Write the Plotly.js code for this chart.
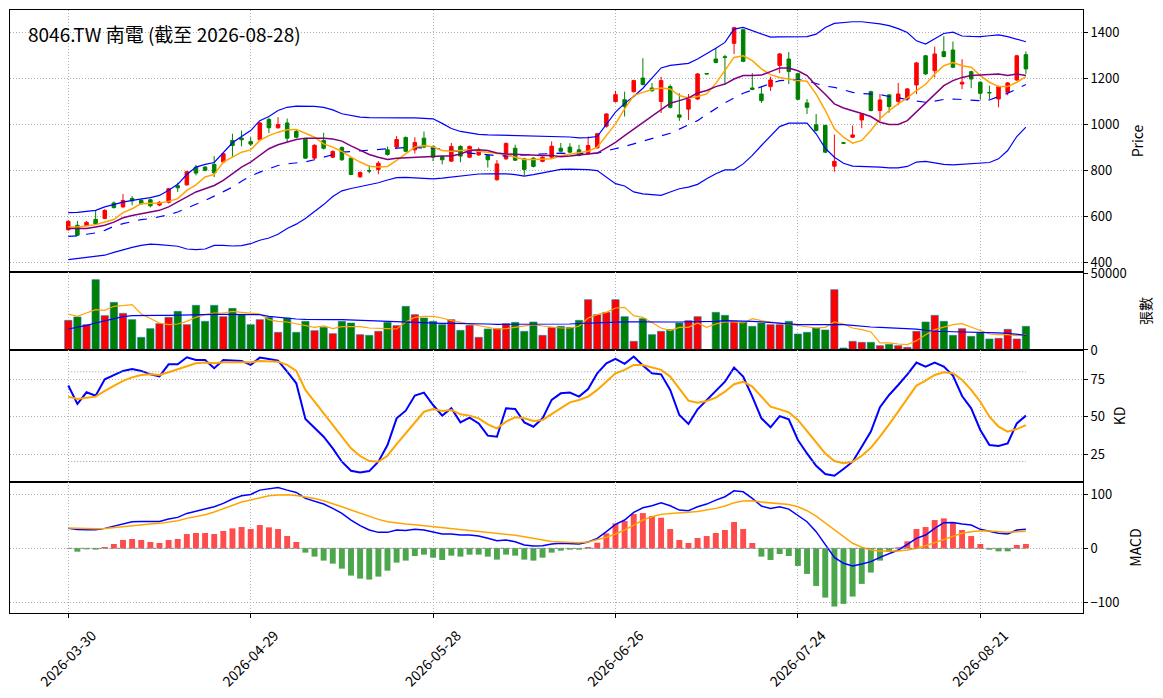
<!DOCTYPE html>
<html>
<head>
<meta charset="utf-8">
<script src="https://cdn.plot.ly/plotly-3.0.1.min.js"></script>
<style>
  body { margin: 0; background: #fff; }
  #chart { width: 1163px; height: 698px; }
</style>
</head>
<body>
<div id="chart"></div>
<script>
// trading days (TW calendar)
const dates = ["2026-03-30","2026-03-31","2026-04-01","2026-04-02","2026-04-07","2026-04-08","2026-04-09","2026-04-10","2026-04-13","2026-04-14",
  "2026-04-15","2026-04-16","2026-04-17","2026-04-20","2026-04-21","2026-04-22","2026-04-23","2026-04-24","2026-04-27","2026-04-28",
  "2026-04-29","2026-04-30","2026-05-04","2026-05-05","2026-05-06","2026-05-07","2026-05-08","2026-05-11","2026-05-12","2026-05-13",
  "2026-05-14","2026-05-15","2026-05-18","2026-05-19","2026-05-20","2026-05-21","2026-05-22","2026-05-25","2026-05-26","2026-05-27",
  "2026-05-28","2026-05-29","2026-06-01","2026-06-02","2026-06-03","2026-06-04","2026-06-05","2026-06-08","2026-06-09","2026-06-10",
  "2026-06-11","2026-06-12","2026-06-15","2026-06-16","2026-06-17","2026-06-18","2026-06-22","2026-06-23","2026-06-24","2026-06-25",
  "2026-06-26","2026-06-29","2026-06-30","2026-07-01","2026-07-02","2026-07-03","2026-07-06","2026-07-07","2026-07-08","2026-07-09",
  "2026-07-10","2026-07-13","2026-07-14","2026-07-15","2026-07-16","2026-07-17","2026-07-20","2026-07-21","2026-07-22","2026-07-23",
  "2026-07-24","2026-07-27","2026-07-28","2026-07-29","2026-07-30","2026-07-31","2026-08-03","2026-08-04","2026-08-05","2026-08-06",
  "2026-08-07","2026-08-10","2026-08-11","2026-08-12","2026-08-13","2026-08-14","2026-08-17","2026-08-18","2026-08-19","2026-08-20",
  "2026-08-21","2026-08-24","2026-08-25","2026-08-26","2026-08-27","2026-08-28"];
const tickDates = ["2026-03-30","2026-04-29","2026-05-28","2026-06-26","2026-07-24","2026-08-21"];

const openP = [541,560,560,586,590,657,640,677,668,671, 648,660,732,736,813,813,825,835,929,939,
  924,932,1020,984,1005,968,936,852,929,856, 898,852,771,798,803,888,900,942,888,939,
  903,859,839,903,856,866,864,758,849,895, 849,852,838,856,895,900,888,871,897,991,
  1098,1106,1141,1200,1157,1098,1163,1040,1065,1109, 1220,1283,1293,1351,1410,1157,1131,1163,1255,1283,
  1219,1092,997,994,817,919,943,1018,1141,1059, 1127,1099,1109,1170,1297,1232,1315,1322,1174,1228,
  1182,1137,1109,1138,1192,1302];
const highP = [582,579,578,625,630,664,696,687,674,676, 665,722,746,797,823,818,861,876,958,972,
  943,1010,1028,1030,1024,975,940,912,962,886, 903,856,794,821,839,902,948,946,943,968,
  907,863,918,908,907,898,868,844,920,910, 853,856,860,925,918,917,910,946,962,1048,
  1145,1141,1193,1286,1179,1206,1172,1134,1131,1222, 1222,1331,1301,1423,1414,1222,1166,1206,1309,1313,
  1223,1109,1044,998,955,921,994,1047,1145,1131, 1131,1179,1157,1270,1301,1337,1382,1359,1282,1232,
  1186,1167,1167,1183,1301,1316];
const lowP = [536,514,556,562,586,633,636,647,650,638, 643,655,705,732,777,795,770,830,859,903,
  905,928,961,980,922,938,848,848,890,852, 840,778,766,786,782,863,896,878,872,895,
  839,825,835,834,852,862,811,754,844,840, 777,812,834,852,878,874,860,867,893,985,
  1094,1033,1137,1168,1141,1048,1068,1014,1018,1105, 1216,1264,1173,1305,1269,1147,1092,1144,1221,1174,
  1104,1044,968,874,793,915,939,982,1055,1012, 1049,1082,1105,1131,1214,1203,1290,1243,1152,1156,
  1106,1109,1073,1125,1188,1218];
const closeP = [577,517,573,566,625,637,668,666,654,645, 660,719,723,793,787,799,788,871,907,932,
  913,1005,984,998,939,943,852,908,895,881, 845,781,790,796,830,868,933,882,920,900,
  856,845,903,861,903,885,845,827,916,843, 803,816,856,904,882,878,864,907,958,1044,
  1128,1076,1189,1172,1145,1189,1073,1030,1107,1218, 1218,1268,1290,1419,1273,1151,1102,1192,1305,1229,
  1108,1073,972,878,838,917,953,1043,1059,1105, 1076,1131,1153,1266,1218,1305,1294,1247,1182,1196,
  1134,1136,1163,1179,1297,1240];

const ma5 = [553,553,557,563,574,585,615,632,654,657, 657,664,676,712,736,770,781,835,856,878,
  888,929,950,965,975,977,960,943,914,900, 881,856,835,817,813,816,842,871,900,907,
  900,885,882,885,888,882,878,871,868,856, 846,846,849,849,862,868,874,882,900,950,
  1001,1066,1124,1138,1150,1157,1153,1124,1114,1120, 1131,1177,1232,1290,1297,1276,1240,1215,1203,1196,
  1189,1186,1130,1060,980,943,917,929,972,1023, 1059,1088,1114,1146,1172,1218,1254,1268,1254,1247,
  1211,1182,1163,1163,1182,1206];
const ma10 = [546,546,546,553,560,574,593,603,611,616, 625,640,661,683,705,719,733,755,784,813,
  835,864,893,910,921,933,939,940,939,935, 926,905,885,868,856,846,852,854,856,858,
  861,861,861,870,885,888,885,874,870,868, 866,864,864,864,858,861,865,870,874,897,
  921,950,979,1008,1037,1066,1091,1102,1114,1135, 1146,1163,1174,1196,1211,1211,1213,1228,1244,1244,
  1232,1211,1168,1130,1088,1070,1059,1046,1033,1008, 998,998,1015,1052,1091,1128,1167,1189,1203,1211,
  1215,1216,1218,1211,1218,1211];
const ma20 = [512,514,521,527,538,556,567,577,585,589, 596,606,618,634,651,668,687,705,726,752,
  774,791,806,820,827,832,836,845,856,868, 878,881,884,885,888,893,897,898,898,898,
  895,891,885,878,874,871,866,862,862,864, 864,866,868,871,874,872,871,872,874,883,
  893,903,914,926,939,950,960,978,997,1015, 1042,1068,1092,1114,1134,1148,1163,1176,1189,1191,
  1193,1188,1178,1165,1160,1148,1138,1133,1131,1128, 1120,1115,1105,1100,1095,1100,1107,1109,1106,1104,
  1102,1105,1120,1134,1153,1172];
const bbUpper = [615,616,621,625,640,651,661,668,674,680, 690,712,738,781,813,825,833,878,919,946,
  972,1015,1033,1059,1073,1078,1078,1077,1073,1062, 1045,1037,1030,1028,1027,1027,1027,1027,1027,1026,
  1023,1003,981,968,962,955,953,952,952,952, 950,948,947,946,946,944,940,941,946,1000,
  1052,1090,1120,1156,1200,1244,1255,1258,1264,1283, 1305,1330,1355,1413,1420,1406,1390,1378,1379,1380,
  1380,1380,1391,1420,1438,1443,1445,1445,1442,1436, 1428,1415,1398,1362,1348,1370,1394,1400,1383,1381,
  1380,1384,1388,1380,1370,1358];
const bbLower = [411,415,420,425,430,442,454,464,473,478, 476,472,469,457,454,457,473,473,470,472,
  480,495,505,521,546,565,590,620,650,685, 710,720,728,736,745,757,767,768,767,764,
  762,765,770,775,780,783,784,784,784,780, 774,780,787,795,803,804,804,802,798,770,
  741,731,705,697,694,690,705,719,726,738, 762,784,801,801,827,864,907,950,989,1004,
  1004,1004,958,895,856,830,817,816,816,813, 810,810,816,835,838,832,825,823,826,830,
  831,833,849,885,946,987];

const volume = [19264,21429,16450,45671,22294,30952,23810,19697,8225,13853, 17100,21212,25108,16450,29004,18615,29004,21645,27056,22944,
  16450,19697,21212,11472,20779,11472,18615,12554,14719,10606, 18615,17532,9957,9524,12121,17965,15801,28355,22944,20779,
  18615,16450,19697,12771,16017,8225,13636,13853,17100,17965, 12121,18182,9524,14500,15368,14719,19264,32684,22944,24459,
  32684,21645,5628,20346,9957,12121,13203,17532,19048,21645, 300,24459,22511,18615,18182,15368,17532,16450,16450,18615,
  10390,11472,14286,12987,39177,1299,5628,4978,4978,2814, 3680,2814,1732,12121,18182,22511,18615,9524,13853,8874,
  11039,7143,7576,13420,7143,15368];
const volMa5 = [23377,21861,24026,26190,25758,28355,28788,29437,23377,20346, 17532,16450,16883,18615,21212,22944,24026,24026,25108,24459,
  23810,23377,19697,18615,18182,16883,16017,14719,15584,13853, 15152,15368,15152,14286,13853,13853,13636,18182,21212,21861,
  21861,20779,19048,17965,16883,16017,14719,13636,13853,14719, 15801,16450,15584,14719,14286,14286,15368,20779,22944,24459,
  27273,27706,22294,21212,17965,14286,12554,14719,14719,17532, 14719,16883,18182,18182,17532,20346,19048,18182,17532,16883,
  16017,14719,14286,14719,18182,16883,14286,13203,11688,4545, 4545,3896,3463,6061,9957,13203,14719,16450,17100,14719,
  12554,10390,9957,9957,9307,9957];
const volMa20 = [13636,14719,16017,17532,19048,20346,21645,22294,22511,22511, 22511,22511,22727,22727,22944,22944,23160,23160,23160,23160,
  23160,22944,21861,21212,20779,20130,19913,19697,19697,19697, 19697,19481,19264,19048,18615,18182,17965,17749,17749,17532,
  17532,17316,17316,17316,17316,17100,16883,16667,16667,16667, 16667,16667,16450,16600,16700,16883,17200,17500,17800,18000,
  18182,18300,18200,18100,18100,18182,18182,18182,18300,18500, 18182,18600,19048,19000,18800,18615,18300,18000,17600,17000,
  16450,16500,16600,16800,16883,16500,16000,15400,14935,14700, 14500,14400,14286,13600,12800,12121,12000,11900,11800,11700,
  11688,11400,11100,10823,10200,9524];

const kLine = [70.8,58.5,66.3,64,75,77.9,80.6,81.9,80.6,78.3, 77,85,85,89.7,87.9,87.9,82.4,87.9,87.5,87.3,
  84.6,89.5,88.6,87.5,80.1,72.3,48.4,42.2,36.6,28.8, 19.9,13.8,12.7,13.6,19.9,31,48.9,54,64.1,66.1,
  57.8,50.7,55.6,46.2,49.3,45.5,37.3,36.6,55.6,55.1, 46.2,43.3,48.9,61.2,65.6,66.1,63.4,68.5,79,85.7,
  88.6,85.3,90.2,84.2,79,78.3,67.9,51.1,45.1,54.9, 61.2,67.4,73.4,82.8,76.8,63.4,48.9,42.9,50.4,48.2,
  34.4,25.4,17.2,11.6,10.5,15,19.9,29.9,40,56.3, 64.5,71.2,78.3,86.2,83.5,86.2,83.5,77.5,63.8,55.6,
  41.1,31,30.4,32.1,45.5,50.7];
const dLine = [63.4,61.8,62.7,63.4,67.2,70.8,73.9,76.3,77.9,78.3, 77.9,79.7,81.7,84.2,85.7,86.2,85.7,86.4,86.4,86.4,
  86.4,87.3,87.3,86.8,84.6,80.6,67.9,60,52.2,44.4, 36.6,28.8,23.7,20.3,19.9,23.9,31.7,38.8,46.2,53.3,
  55.1,53.8,54.5,51.6,50.7,48.9,44.9,42.2,46.7,49.6, 48.9,47.1,47.8,51.6,55.6,59.6,61.2,63.4,67.9,73.4,
  79,81.3,84.6,84.6,82.8,81.3,76.8,69,60.7,59.4, 60.5,62.7,66.7,71.7,73.4,70.1,63.4,56.7,54.9,52.9,
  47.8,40.4,33.3,25.4,20.3,18.8,19.9,23.9,29.2,36.6, 44.9,53.3,61.8,70.8,74.1,77.9,79.7,79,74.6,67.9,
  60,50,43.3,40,41.7,44.4];

const dif = [37,35,34.6,34.6,37,41.4,46.3,49.4,50,50, 50,54.3,57.4,64.8,69.1,72.2,77.2,83.3,91.4,97.5,
  100,108,111,113,108,103.7,92.6,87.7,82.1,74.1, 64.8,52.5,42,34,29.6,29.6,34,33.3,35.2,34,
  29.6,26.5,26.5,24.7,24.7,22.8,18.5,14.2,15.4,12.3, 6.2,4.3,4.6,8,9.3,9.3,8,11.7,18.5,30.9,
  44.4,52.5,66.7,75.3,79,84.6,79,71,69.8,77.2, 82.1,89.5,95.7,106.8,104.9,92.6,78.4,74.1,77.2,72.8,
  61.7,49.4,30.9,6.2,-16.7,-27.8,-32.7,-29,-24.7,-16.7, -10.5,-3.1,7.4,18.5,24.7,37,47.5,48.1,45.1,43.2,
  35.2,30.9,27.8,26.5,34,35.2];
const signalLine = [37.7,37,36.4,36.4,37,38.9,40.1,42,43.8,45.1, 46.3,48.1,51.2,55.6,58.6,62.3,67.3,73.5,79,85.8,
  89.5,93.8,97.5,98.8,99.4,98.1,95.7,92.6,88.3,83.3, 77.2,71,64.8,58.6,53.7,49.4,46.9,45.1,43.8,42,
  40.1,38.3,36.4,34.6,33.3,32.1,30.2,27.8,25.9,24.1, 21.6,18.5,14.5,12.6,11.7,11.1,10.5,11.7,15.4,20.4,
  26.5,34,43.2,52.5,58.6,63,64.8,65.4,66.7,68.5, 71,74.1,78.4,84.6,87.7,88.3,85.8,84.6,83.3,81.5,
  77.2,69.8,59.9,47.5,34,21.6,9.3,1.9,-3.1,-4.9, -4.9,-4.9,-3.1,0,4.9,10.5,16.7,22.8,27.8,30.9,
  32.7,32.1,30.9,29.6,30.9,31.5];
const macdHist = [-0.5,-6.2,-1.9,-2.5,2.5,8,15.4,17.3,15.4,11.7, 9.9,15.4,17.3,26.5,28.4,28.4,26.5,32.1,37,39.5,
  35.8,43.2,38.9,35.8,22.8,11.7,-8,-15.4,-22.8,-28.4, -37.7,-50.6,-56.2,-58,-52.5,-41.4,-26.5,-22.8,-14.2,-11.7,
  -17.3,-21.6,-13.6,-15.4,-11.7,-11.7,-15.4,-21,-11.7,-13.6, -21,-22.8,-17.3,-8,-4.3,-2.5,-2.5,2.5,10.5,27.8,
  46.3,50.6,63.6,65.4,59.9,56.8,35.8,15.4,9.9,19.1, 22.8,28.4,34,48.8,35.8,9.9,-15.4,-21.6,-10.5,-14.2,
  -32.7,-47.5,-69.8,-91.4,-108,-103,-89.5,-66,-45,-22.8, -6.8,1.9,13,35.8,39.5,52.5,55.6,48.8,34,22.8,
  8,-2.5,-5.6,-5.6,6.2,8];

const upColor = "#ff0000";
const downColor = "#008000";
const volColors = closeP.map((c, i) => c >= openP[i] ? upColor : downColor);
const histColors = macdHist.map(v => v >= 0 ? "rgba(255,0,0,0.7)" : "rgba(0,128,0,0.7)");

function line(y, color, width, xa, ya, dash) {
  return { type: "scatter", mode: "lines", x: dates, y: y, xaxis: xa, yaxis: ya,
    line: { color: color, width: width, dash: dash || "solid" }, hoverinfo: "skip" };
}

const data = [
  { type: "candlestick", x: dates, open: openP, high: highP, low: lowP, close: closeP,
    xaxis: "x", yaxis: "y", hoverinfo: "skip",
    increasing: { line: { color: upColor, width: 1 }, fillcolor: upColor },
    decreasing: { line: { color: downColor, width: 1 }, fillcolor: downColor } },
  line(bbUpper, "#0000ff", 1.2, "x", "y"),
  line(ma20, "#0000ff", 1.2, "x", "y", "dash"),
  line(bbLower, "#0000ff", 1.2, "x", "y"),
  line(ma5, "orange", 1.5, "x", "y"),
  line(ma10, "purple", 1.5, "x", "y"),

  { type: "bar", x: dates, y: volume, xaxis: "x2", yaxis: "y2", width: 0.8, hoverinfo: "skip",
    marker: { color: volColors, line: { color: "#1f77b4", width: 0.6 } } },
  line(volMa5, "orange", 1.2, "x2", "y2"),
  line(volMa20, "#0000ff", 1.2, "x2", "y2"),

  line(kLine, "#0000ff", 2, "x3", "y3"),
  line(dLine, "orange", 2, "x3", "y3"),

  { type: "bar", x: dates, y: macdHist, xaxis: "x4", yaxis: "y4", width: 0.65, hoverinfo: "skip",
    marker: { color: histColors } },
  line(dif, "#0000ff", 1.5, "x4", "y4"),
  line(signalLine, "orange", 1.5, "x4", "y4")
];

const font = "'Noto Sans CJK TC', 'Noto Sans', 'DejaVu Sans', sans-serif";
const gridDash = "1px,2px";
const xRange = [-6.39, 111.26];
const xBase = {
  type: "category", range: xRange, tickvals: tickDates, ticktext: tickDates,
  showgrid: true, gridcolor: "#b0b0b0", griddash: gridDash, gridwidth: 1,
  showline: true, linecolor: "#000", linewidth: 1, mirror: true,
  ticks: "", showticklabels: false, fixedrange: true, rangeslider: { visible: false }
};
const yBase = {
  side: "right", showgrid: true, gridcolor: "#b0b0b0", griddash: gridDash, gridwidth: 1,
  showline: true, linecolor: "#000", linewidth: 1, mirror: true, zeroline: false,
  ticks: "outside", ticklen: 4, tickcolor: "#000", tickformat: "d",
  tickfont: { size: 13, color: "#000" }, fixedrange: true
};
const yTitle = (text, gap) => ({ text: text, font: { size: 14 }, standoff: gap });

const layout = {
  width: 1163, height: 698,
  margin: { l: 10, r: 80, t: 10, b: 85 },
  paper_bgcolor: "#fff", plot_bgcolor: "#fff",
  font: { family: font, color: "#000" },
  showlegend: false,
  boxgap: 0.45,
  bargap: 0.2,
  xaxis: Object.assign({}, xBase, { anchor: "y" }),
  xaxis2: Object.assign({}, xBase, { anchor: "y2" }),
  xaxis3: Object.assign({}, xBase, { anchor: "y3" }),
  xaxis4: Object.assign({}, xBase, { anchor: "y4", ticks: "outside", ticklen: 4, tickcolor: "#000",
    showticklabels: true, tickangle: -45, ticklabelshift: 24, ticklabelstandoff: 4,
    tickfont: { size: 14, color: "#000" } }),
  yaxis: Object.assign({}, yBase, { anchor: "x", domain: [0.5655, 1], range: [357, 1496],
    tickvals: [400, 600, 800, 1000, 1200, 1400], title: yTitle("Price", 14) }),
  yaxis2: Object.assign({}, yBase, { anchor: "x2", domain: [0.4362, 0.5655], range: [0, 50650],
    tickvals: [0, 50000], title: yTitle("張數", 15) }),
  yaxis3: Object.assign({}, yBase, { anchor: "x3", domain: [0.2172, 0.4362], range: [6.3, 94.6],
    tickvals: [25, 50, 75], title: yTitle("KD", 11) }),
  yaxis4: Object.assign({}, yBase, { anchor: "x4", domain: [0, 0.2172], range: [-120, 123],
    tickvals: [-100, 0, 100], title: yTitle("MACD", 12) }),
  shapes: [
    { type: "line", xref: "x3", yref: "y3", x0: dates[0], x1: dates[dates.length - 1], y0: 80, y1: 80,
      line: { color: "#999", width: 1, dash: gridDash } },
    { type: "line", xref: "x3", yref: "y3", x0: dates[0], x1: dates[dates.length - 1], y0: 20, y1: 20,
      line: { color: "#999", width: 1, dash: gridDash } },
    { type: "line", xref: "x4", yref: "y4", x0: dates[0], x1: dates[dates.length - 1], y0: 0, y1: 0,
      line: { color: "#888", width: 1, dash: "4px,2px" } }
  ],
  annotations: [
    { xref: "paper", yref: "paper", x: 0.0149, y: 0.987, xanchor: "left", yanchor: "top",
      text: "8046.TW 南電 (截至 2026-08-28)", showarrow: false, font: { size: 19, color: "#000" } }
  ]
};

Plotly.newPlot("chart", data, layout, { staticPlot: true, displayModeBar: false });
</script>
</body>
</html>
